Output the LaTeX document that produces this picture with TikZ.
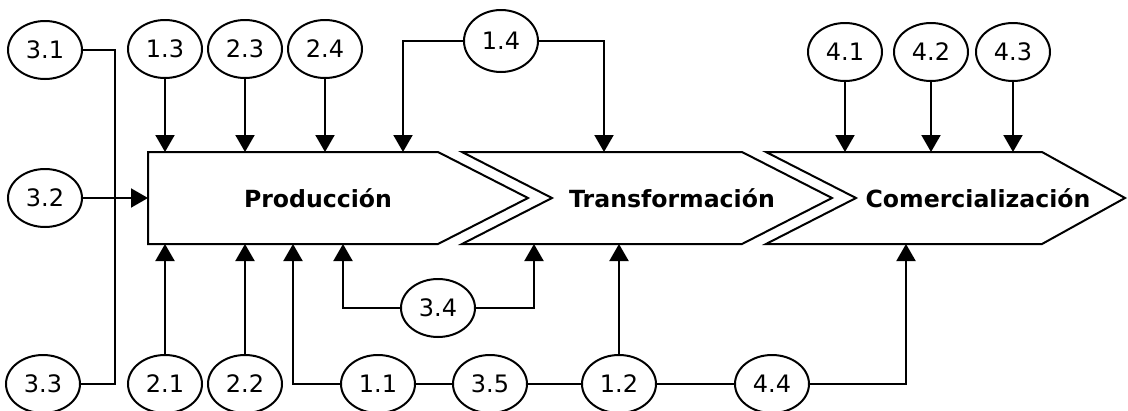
\documentclass[tikz,border=0pt]{standalone}
\usepackage{fontspec}
\setmainfont{DejaVu Sans}
\usetikzlibrary{arrows.meta,shapes.geometric}
\begin{document}
\begin{tikzpicture}[x=1pt,y=-1pt,
  line width=2pt, line join=miter,
  tip/.style={-{Triangle[length=17pt,width=19pt]}},
  oval/.style={draw, ellipse, minimum width=74pt, minimum height=58pt,
    inner sep=0pt, font=\fontsize{24}{26}\selectfont},
  title/.style={font=\bfseries\fontsize{23.6}{26}\selectfont}]
\useasboundingbox (0,0) rectangle (1128,410);

% the three stages of the chain
\draw (148,152) -- (438,152) -- (528,198) -- (438,244) -- (148,244) -- cycle;
\draw (462,152) -- (742,152) -- (832,198) -- (742,244) -- (462,244) -- (552,198) -- cycle;
\draw (766,152) -- (1042,152) -- (1125,198) -- (1042,244) -- (766,244) -- (856,198) -- cycle;
\node[title] (prod) at (318,198) {Producción};
\node[title] (trans) at (672,198) {Transformación};
\node[title] (comer) at (978,198) {Comercialización};

% reference lines on the stage edges
\coordinate (top) at (0,152);
\coordinate (bot) at (0,244);
\coordinate (pw) at (148,198);
\coordinate (rail) at (115,0);
\coordinate (p14) at (403,152);
\coordinate (t14) at (604,152);
\coordinate (p11) at (293,244);
\coordinate (p34) at (343,244);
\coordinate (t34) at (534,244);
\coordinate (c44) at (906,244);

% numbered factors
\node[oval] (n31) at (45,50) {3.1};
\node[oval] (n13) at (165,49) {1.3};
\node[oval] (n23) at (245,49) {2.3};
\node[oval] (n24) at (325,49) {2.4};
\node[oval, minimum height=62pt] (n14) at (501,41) {1.4};
\node[oval] (n41) at (845,52) {4.1};
\node[oval] (n42) at (931,52) {4.2};
\node[oval] (n43) at (1013,52) {4.3};
\node[oval] (n32) at (45,198) {3.2};
\node[oval] (n34) at (438,308) {3.4};
\node[oval] (n33) at (43,384) {3.3};
\node[oval] (n21) at (165,384) {2.1};
\node[oval] (n22) at (245,384) {2.2};
\node[oval] (n11) at (378,384) {1.1};
\node[oval] (n35) at (490,384) {3.5};
\node[oval] (n12) at (619,384) {1.2};
\node[oval] (n44) at (772,384) {4.4};

% connectors
\draw (n31.east) -- (n31.east -| rail) -- (n33.east -| rail) -- (n33.east);
\draw[tip] (n32.east) -- (pw);
\draw[tip] (n13.south) -- (n13.south |- top);
\draw[tip] (n23.south) -- (n23.south |- top);
\draw[tip] (n24.south) -- (n24.south |- top);
\draw[tip] (n14.west) -| (p14);
\draw[tip] (n14.east) -| (t14);
\draw[tip] (n41.south) -- (n41.south |- top);
\draw[tip] (n42.south) -- (n42.south |- top);
\draw[tip] (n43.south) -- (n43.south |- top);
\draw[tip] (n21.north) -- (n21.north |- bot);
\draw[tip] (n22.north) -- (n22.north |- bot);
\draw[tip] (n11.west) -| (p11);
\draw[tip] (n34.west) -| (p34);
\draw[tip] (n34.east) -| (t34);
\draw (n11) -- (n35);
\draw (n35) -- (n12);
\draw (n12) -- (n44);
\draw[tip] (n12.north) -- (n12.north |- bot);
\draw[tip] (n44.east) -| (c44);
\end{tikzpicture}
\end{document}
